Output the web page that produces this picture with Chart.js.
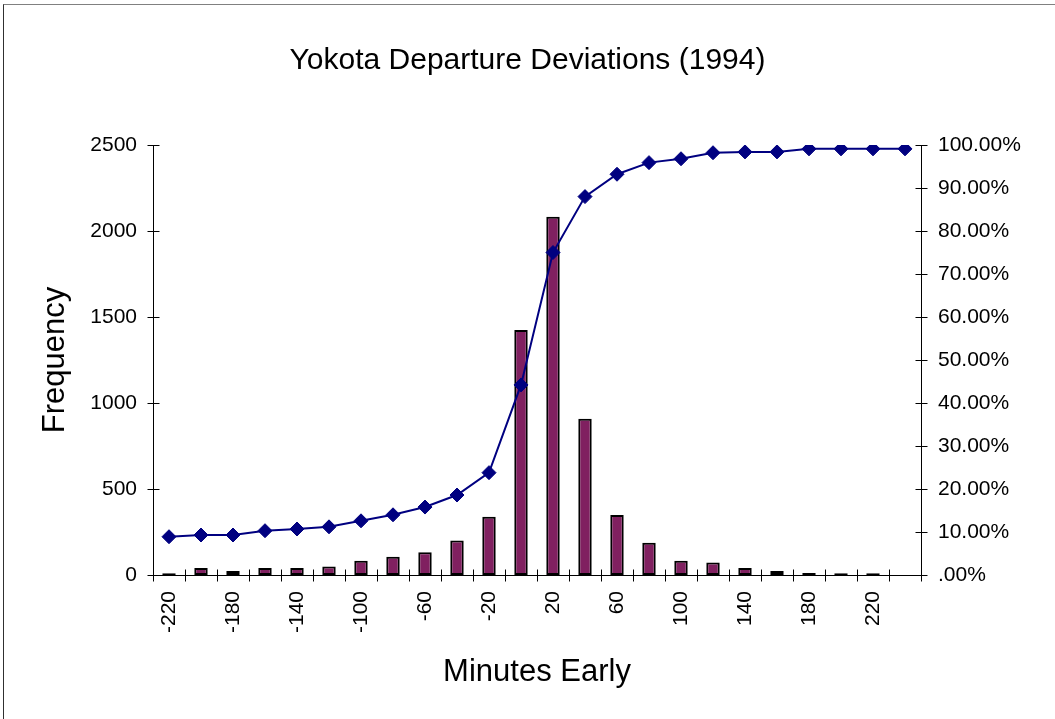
<!DOCTYPE html>
<html>
<head>
<meta charset="utf-8">
<title>Yokota Departure Deviations (1994)</title>
<script src="https://cdn.jsdelivr.net/npm/chart.js@4.4.1/dist/chart.umd.min.js"></script>
<style>
  html, body { margin: 0; padding: 0; background: #fff; overflow: hidden; }
  #frame { position: absolute; left: 3px; top: 4px; width: 1200px; height: 900px;
           border-top: 1px solid #808080; border-left: 1px solid #303030; }
  #chart { position: absolute; left: 0; top: 0; }
</style>
</head>
<body>
<div id="frame"></div>
<canvas id="chart" width="1055" height="719"></canvas>
<script>
// minutes early, one bin every 20 minutes
var minutesEarly = ['-220', '-200', '-180', '-160', '-140', '-120', '-100', '-80', '-60', '-40', '-20', '0',
                    '20', '40', '60', '80', '100', '120', '140', '160', '180', '200', '220', '240'];

var frequency = [10, 40, 23, 40, 40, 50, 83, 106, 132, 200, 339, 1424,
                 2083, 909, 349, 188, 83, 72, 40, 23, 12, 10, 10, 0];

// cumulative share, right axis
var cumulative = [0.089, 0.093, 0.093, 0.103, 0.107, 0.112, 0.126, 0.140, 0.158, 0.186, 0.238, 0.442,
                  0.750, 0.880, 0.932, 0.959, 0.968, 0.982, 0.984, 0.984, 0.991, 0.991, 0.991, 0.991];

var fontFamily = '"Liberation Sans", Arial, Helvetica, sans-serif';

// excel style tick marks that cross the axis line
var crossTicks = {
  id: 'crossTicks',
  afterDraw: function(chart) {
    var ctx = chart.ctx;
    var area = chart.chartArea;
    var len = 6;
    ctx.save();
    ctx.strokeStyle = '#000';
    ctx.lineWidth = 1;
    ctx.beginPath();

    var y = chart.scales.y;
    var xl = Math.round(area.left) + 0.5;
    for (var i = 0; i < y.ticks.length; i++) {
      var py = Math.round(y.getPixelForTick(i)) + 0.5;
      ctx.moveTo(xl - len, py);
      ctx.lineTo(xl + len, py);
    }

    var y1 = chart.scales.y1;
    var xr = Math.round(area.right) + 0.5;
    for (var j = 0; j < y1.ticks.length; j++) {
      var py1 = Math.round(y1.getPixelForTick(j)) + 0.5;
      ctx.moveTo(xr - len, py1);
      ctx.lineTo(xr + len, py1);
    }

    var x = chart.scales.x;
    var yb = Math.round(area.bottom) + 0.5;
    for (var k = 0; k <= minutesEarly.length; k++) {
      var px = Math.round(x.getPixelForValue(k - 0.5)) + 0.5;
      ctx.moveTo(px, yb - len);
      ctx.lineTo(px, yb + len);
    }
    ctx.stroke();
    ctx.restore();
  }
};

function initChart()
{
  var ctx = document.getElementById('chart');

  new Chart(ctx, {
    data: {
      labels: minutesEarly,
      datasets: [
        {
          type: 'line',
          label: 'Cumulative %',
          data: cumulative,
          yAxisID: 'y1',
          order: 0,
          borderColor: '#000080',
          backgroundColor: '#000080',
          borderWidth: 2,
          pointStyle: 'rectRot',
          pointRadius: 7,
          pointBorderWidth: 1,
          tension: 0
        },
        {
          type: 'bar',
          label: 'Frequency',
          data: frequency,
          yAxisID: 'y',
          order: 1,
          backgroundColor: '#802060',
          borderColor: '#000',
          borderWidth: 2,
          borderSkipped: false,
          categoryPercentage: 1,
          barPercentage: 0.42
        }
      ]
    },
    options: {
      responsive: false,
      animation: false,
      devicePixelRatio: 1,
      layout: { padding: 0 },
      plugins: {
        legend: { display: false },
        tooltip: { enabled: false },
        title: {
          display: true,
          text: 'Yokota Departure Deviations (1994)',
          color: '#000',
          font: { family: fontFamily, size: 30, weight: 'normal', lineHeight: 1.2 },
          padding: { top: 43, bottom: 66 }
        }
      },
      scales: {
        x: {
          offset: true,
          grid: { display: false, drawTicks: false },
          border: { display: true, color: '#000', width: 1 },
          ticks: {
            autoSkip: false,
            minRotation: 90,
            maxRotation: 90,
            padding: 16,
            color: '#000',
            font: { family: fontFamily, size: 21 },
            callback: function(value, index) {
              return index % 2 === 0 ? minutesEarly[index] : '';
            }
          },
          title: {
            display: true,
            text: 'Minutes Early',
            color: '#000',
            font: { family: fontFamily, size: 31 },
            padding: { top: 0, bottom: 28 }
          },
          afterFit: function(scale) { scale.height = 144; }
        },
        y: {
          position: 'left',
          min: 0,
          max: 2500,
          grid: { display: false, drawTicks: false },
          border: { display: true, color: '#000', width: 1 },
          ticks: {
            stepSize: 500,
            padding: 16,
            color: '#000',
            font: { family: fontFamily, size: 21 },
            callback: function(value) {
              return String(value);
            }
          },
          title: {
            display: true,
            text: 'Frequency',
            color: '#000',
            font: { family: fontFamily, size: 31 },
            padding: { top: 37, bottom: 0 }
          },
          afterFit: function(scale) { scale.width = 153; }
        },
        y1: {
          position: 'right',
          min: 0,
          max: 1,
          grid: { display: false, drawTicks: false },
          border: { display: true, color: '#000', width: 1 },
          ticks: {
            stepSize: 0.1,
            padding: 17,
            color: '#000',
            font: { family: fontFamily, size: 21 },
            callback: function(value) {
              if (value === 0) return '.00%';
              return (value * 100).toFixed(2) + '%';
            }
          },
          afterFit: function(scale) { scale.width = 134; }
        }
      }
    },
    plugins: [crossTicks]
  });
}

initChart();
</script>
</body>
</html>
